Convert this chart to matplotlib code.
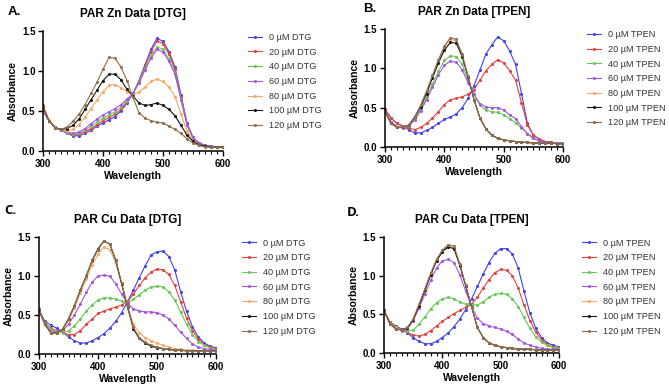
import matplotlib
matplotlib.use("Agg")
import matplotlib.pyplot as plt
from matplotlib.ticker import MultipleLocator

plt.rcParams['font.family'] = ['Liberation Sans', 'DejaVu Sans']

wavelength = [300, 310, 320, 330, 340, 350, 360, 370, 380, 390, 400, 410, 420, 430, 440, 450,
              460, 470, 480, 490, 500, 510, 520, 530, 540, 550, 560, 570, 580, 590, 600]

conc_labels = ["0 µM", "20 µM", "40 µM", "60 µM", "80 µM", "100 µM", "120 µM"]
colors = ["#4242ee", "#e2443c", "#66c955", "#a656e6", "#f4aa66", "#151515", "#8e6e4e"]

# Panel A: PAR Zn Data [DTG]
zn_dtg = [
    [0.50,0.38,0.30,0.26,0.22,0.19,0.19,0.22,0.26,0.31,0.35,0.39,0.43,0.50,0.60,0.72,0.88,1.08,1.27,1.41,1.37,1.24,1.05,0.70,0.35,0.17,0.10,0.07,0.06,0.05,0.05],
    [0.50,0.38,0.30,0.26,0.23,0.20,0.21,0.24,0.28,0.33,0.38,0.42,0.46,0.52,0.61,0.72,0.87,1.06,1.24,1.38,1.34,1.21,1.02,0.68,0.34,0.17,0.10,0.07,0.06,0.05,0.05],
    [0.50,0.38,0.30,0.26,0.23,0.21,0.22,0.26,0.31,0.36,0.41,0.45,0.49,0.55,0.63,0.72,0.86,1.03,1.19,1.30,1.27,1.15,0.98,0.65,0.33,0.16,0.10,0.07,0.06,0.05,0.05],
    [0.50,0.38,0.30,0.26,0.24,0.22,0.24,0.28,0.34,0.40,0.45,0.49,0.53,0.58,0.65,0.72,0.85,1.01,1.16,1.27,1.24,1.12,0.96,0.64,0.33,0.16,0.10,0.07,0.06,0.05,0.05],
    [0.52,0.39,0.30,0.27,0.25,0.27,0.33,0.42,0.53,0.64,0.74,0.82,0.83,0.79,0.74,0.70,0.74,0.80,0.87,0.90,0.87,0.80,0.68,0.46,0.25,0.13,0.08,0.06,0.05,0.05,0.05],
    [0.55,0.38,0.29,0.27,0.28,0.32,0.40,0.52,0.64,0.76,0.88,0.96,0.96,0.89,0.77,0.69,0.60,0.57,0.58,0.60,0.57,0.52,0.44,0.32,0.20,0.12,0.08,0.06,0.05,0.05,0.05],
    [0.57,0.38,0.29,0.27,0.30,0.37,0.46,0.58,0.72,0.86,1.02,1.17,1.16,1.05,0.88,0.67,0.48,0.41,0.38,0.36,0.35,0.31,0.27,0.22,0.15,0.10,0.07,0.05,0.05,0.05,0.05],
]

# Panel B: PAR Zn Data [TPEN]
zn_tpen = [
    [0.48,0.37,0.30,0.26,0.22,0.18,0.18,0.21,0.25,0.30,0.35,0.38,0.42,0.50,0.62,0.78,0.98,1.18,1.30,1.40,1.35,1.22,1.05,0.68,0.30,0.15,0.10,0.07,0.06,0.05,0.05],
    [0.47,0.37,0.30,0.27,0.24,0.22,0.25,0.30,0.37,0.45,0.54,0.60,0.62,0.64,0.67,0.73,0.85,0.97,1.05,1.11,1.07,0.97,0.85,0.56,0.28,0.15,0.10,0.07,0.06,0.05,0.05],
    [0.45,0.32,0.26,0.24,0.27,0.35,0.48,0.63,0.80,0.96,1.10,1.16,1.15,1.05,0.85,0.67,0.53,0.47,0.45,0.44,0.41,0.36,0.31,0.24,0.17,0.11,0.08,0.06,0.05,0.05,0.05],
    [0.45,0.32,0.26,0.24,0.27,0.34,0.46,0.60,0.76,0.92,1.04,1.09,1.08,0.98,0.82,0.67,0.55,0.51,0.50,0.50,0.47,0.41,0.36,0.26,0.17,0.11,0.08,0.06,0.05,0.05,0.05],
    [0.45,0.30,0.25,0.25,0.28,0.38,0.52,0.70,0.90,1.10,1.27,1.37,1.35,1.17,0.90,0.60,0.37,0.23,0.15,0.11,0.09,0.08,0.07,0.06,0.06,0.05,0.05,0.05,0.05,0.04,0.04],
    [0.45,0.30,0.25,0.25,0.28,0.38,0.51,0.68,0.88,1.07,1.23,1.33,1.32,1.15,0.89,0.60,0.37,0.23,0.15,0.11,0.09,0.08,0.07,0.06,0.06,0.05,0.05,0.05,0.05,0.04,0.04],
    [0.45,0.30,0.25,0.25,0.28,0.38,0.53,0.71,0.91,1.11,1.28,1.39,1.37,1.18,0.90,0.60,0.37,0.23,0.15,0.11,0.09,0.08,0.07,0.06,0.06,0.05,0.05,0.05,0.05,0.04,0.04],
]

# Panel C: PAR Cu Data [DTG]
cu_dtg = [
    [0.55,0.42,0.37,0.33,0.28,0.22,0.17,0.14,0.14,0.17,0.21,0.26,0.33,0.42,0.53,0.67,0.82,0.98,1.13,1.27,1.31,1.32,1.25,1.08,0.80,0.55,0.35,0.22,0.14,0.10,0.08],
    [0.55,0.40,0.33,0.30,0.28,0.25,0.25,0.30,0.38,0.45,0.52,0.55,0.58,0.60,0.63,0.67,0.77,0.88,0.98,1.05,1.09,1.08,1.02,0.88,0.67,0.46,0.30,0.19,0.12,0.09,0.07],
    [0.55,0.40,0.32,0.29,0.27,0.30,0.36,0.45,0.55,0.63,0.69,0.72,0.72,0.70,0.68,0.66,0.70,0.76,0.82,0.86,0.87,0.86,0.80,0.69,0.54,0.38,0.25,0.16,0.11,0.08,0.06],
    [0.55,0.38,0.30,0.28,0.30,0.38,0.50,0.64,0.79,0.92,1.00,1.01,1.00,0.90,0.77,0.65,0.58,0.55,0.54,0.54,0.53,0.50,0.45,0.37,0.28,0.20,0.13,0.09,0.07,0.06,0.05],
    [0.57,0.38,0.28,0.27,0.31,0.43,0.59,0.78,0.96,1.14,1.28,1.37,1.34,1.17,0.90,0.62,0.38,0.27,0.21,0.17,0.14,0.11,0.09,0.07,0.06,0.05,0.05,0.04,0.04,0.04,0.04],
    [0.58,0.38,0.27,0.27,0.32,0.45,0.62,0.82,1.00,1.20,1.35,1.45,1.41,1.20,0.90,0.60,0.32,0.20,0.14,0.10,0.08,0.07,0.06,0.05,0.05,0.04,0.04,0.04,0.04,0.04,0.04],
    [0.58,0.38,0.27,0.27,0.32,0.45,0.62,0.82,1.00,1.19,1.34,1.45,1.41,1.21,0.91,0.61,0.34,0.21,0.15,0.11,0.09,0.07,0.06,0.05,0.05,0.04,0.04,0.04,0.04,0.04,0.04],
]

# Panel D: PAR Cu Data [TPEN]
cu_tpen = [
    [0.55,0.40,0.35,0.31,0.26,0.20,0.15,0.12,0.12,0.15,0.20,0.26,0.34,0.44,0.56,0.70,0.86,1.02,1.17,1.29,1.35,1.35,1.28,1.10,0.80,0.52,0.32,0.20,0.13,0.10,0.08],
    [0.55,0.40,0.34,0.30,0.27,0.23,0.22,0.24,0.29,0.35,0.41,0.46,0.51,0.55,0.59,0.63,0.72,0.84,0.95,1.04,1.08,1.07,1.00,0.84,0.62,0.42,0.27,0.17,0.11,0.08,0.06],
    [0.55,0.39,0.33,0.30,0.28,0.30,0.37,0.47,0.57,0.65,0.70,0.72,0.70,0.66,0.63,0.62,0.62,0.66,0.72,0.76,0.77,0.76,0.70,0.60,0.46,0.32,0.21,0.14,0.10,0.07,0.06],
    [0.55,0.38,0.32,0.29,0.31,0.42,0.58,0.76,0.94,1.10,1.19,1.21,1.17,1.01,0.80,0.60,0.45,0.38,0.35,0.33,0.31,0.28,0.24,0.18,0.13,0.10,0.08,0.06,0.05,0.05,0.05],
    [0.55,0.38,0.32,0.30,0.32,0.43,0.62,0.82,1.02,1.20,1.32,1.38,1.36,1.14,0.87,0.60,0.33,0.20,0.13,0.10,0.08,0.07,0.06,0.05,0.05,0.05,0.04,0.04,0.04,0.04,0.04],
    [0.55,0.38,0.31,0.30,0.32,0.43,0.61,0.81,1.01,1.19,1.31,1.37,1.35,1.13,0.87,0.60,0.33,0.20,0.13,0.10,0.08,0.07,0.06,0.05,0.05,0.05,0.04,0.04,0.04,0.04,0.04],
    [0.55,0.38,0.31,0.30,0.33,0.44,0.63,0.83,1.03,1.21,1.33,1.40,1.38,1.15,0.88,0.60,0.33,0.20,0.13,0.10,0.08,0.07,0.06,0.05,0.05,0.05,0.04,0.04,0.04,0.04,0.04],
]

panels = [
    dict(data=zn_dtg, agent="DTG", title="PAR Zn Data [DTG]", letter="A.",
         rect=[0.0643, 0.6108, 0.2690, 0.3093], leg=(0.371, 0.915), lpos=(0.012, 0.985), lfont='Liberation Sans'),
    dict(data=zn_tpen, agent="TPEN", title="PAR Zn Data [TPEN]", letter="B.",
         rect=[0.5755, 0.6211, 0.2661, 0.3041], leg=(0.878, 0.922), lpos=(0.543, 0.992), lfont='Liberation Sans'),
    dict(data=cu_dtg, agent="DTG", title="PAR Cu Data [DTG]", letter="C.",
         rect=[0.0583, 0.0876, 0.2646, 0.3015], leg=(0.362, 0.385), lpos=(0.006, 0.475), lfont='Open Sans'),
    dict(data=cu_tpen, agent="TPEN", title="PAR Cu Data [TPEN]", letter="D.",
         rect=[0.5740, 0.0902, 0.2616, 0.2990], leg=(0.870, 0.385), lpos=(0.518, 0.468), lfont='Open Sans'),
]

fig = plt.figure(figsize=(6.69, 3.88), dpi=100)

for p in panels:
    ax = fig.add_axes(p["rect"])
    handles = []
    for series, lab, col in zip(p["data"], conc_labels, colors):
        h, = ax.plot(wavelength, series, color=col, lw=0.8, marker='o', ms=1.2,
                     mec=col, mfc=col, label=f"{lab} {p['agent']}")
        handles.append(h)
    ax.set_xlim(300, 600)
    ax.set_ylim(0, 1.5)
    ax.set_xticks([300, 400, 500, 600])
    ax.xaxis.set_minor_locator(MultipleLocator(10))
    ax.set_yticks([0.0, 0.5, 1.0, 1.5])
    ax.set_yticklabels(["0.0", "0.5", "1.0", "1.5"])
    for s in ["top", "right"]:
        ax.spines[s].set_visible(False)
    for s in ["left", "bottom"]:
        ax.spines[s].set_linewidth(1.1)
    ax.tick_params(axis='both', which='major', length=3.5, width=1.0, labelsize=7, pad=2)
    ax.tick_params(axis='x', which='minor', length=2.2, width=0.8)
    for t in ax.get_xticklabels() + ax.get_yticklabels():
        t.set_fontweight('bold')
    ax.set_xlabel("Wavelength", fontsize=7.5, fontweight='bold', labelpad=2)
    ax.set_ylabel("Absorbance", fontsize=7.5, fontweight='bold', labelpad=3)
    ax.set_title(p["title"], fontsize=8.5, fontweight='bold', pad=10)
    fig.legend(handles=handles, loc='upper left', bbox_to_anchor=p["leg"], frameon=False,
               fontsize=6.6, handlelength=1.5, handletextpad=0.75, labelspacing=0.62,
               borderaxespad=0, borderpad=0, labelcolor='#333333')
    fig.text(p["lpos"][0], p["lpos"][1], p["letter"], fontsize=9.5, fontweight='bold',
             family=p["lfont"], va='top', ha='left')

fig.savefig("out.png", dpi=100)
